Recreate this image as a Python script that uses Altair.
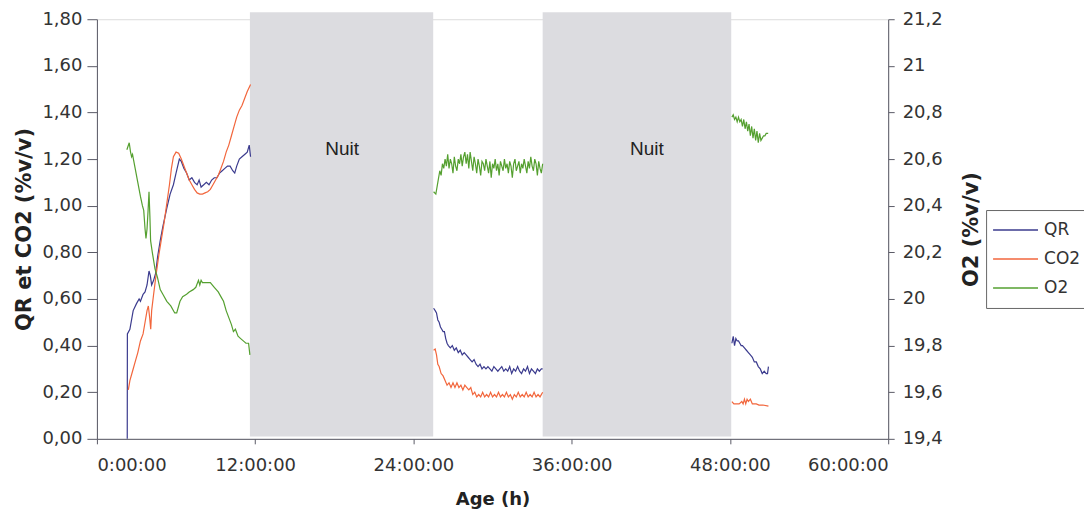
import altair as alt
import pandas as pd

# ---------------- data ----------------
series_names = ["QR", "CO2", "O2"]
series_colors = ["#3b3b8e", "#f2663c", "#55a030"]

night_start = [11.6, 33.8]
night_end = [25.5, 48.1]
night_bottom = [0.01, 0.01]
night_top = [1.83, 1.83]
night_label_x = [18.6, 41.7]
night_label_y = [1.245, 1.245]
night_label = ["Nuit", "Nuit"]

# segment 1 (day 1)
qr1_h = [2.30, 2.31, 2.5, 2.75, 3.0, 3.2, 3.3, 3.5, 3.65, 3.8, 3.95, 4.05, 4.15, 4.3, 4.45, 4.6, 4.8, 5.0,
         5.3, 5.55, 5.8, 6.0, 6.25, 6.4, 6.6, 6.8, 7.0, 7.2, 7.4, 7.6, 7.75, 7.9, 8.1, 8.3, 8.5, 8.7, 8.9,
         9.1, 9.3, 9.5, 9.7, 9.9, 10.1, 10.3, 10.45, 10.6, 10.8, 11.0, 11.2, 11.4, 11.55, 11.65]
qr1_v = [0.00, 0.45, 0.47, 0.55, 0.58, 0.60, 0.59, 0.62, 0.63, 0.66, 0.72, 0.70, 0.66, 0.68, 0.71, 0.78, 0.85, 0.91,
         0.99, 1.05, 1.09, 1.14, 1.20, 1.19, 1.16, 1.14, 1.11, 1.12, 1.10, 1.09, 1.11, 1.08, 1.09, 1.10, 1.09, 1.11, 1.12,
         1.12, 1.14, 1.15, 1.16, 1.17, 1.17, 1.15, 1.14, 1.17, 1.20, 1.21, 1.22, 1.23, 1.26, 1.21]

co21_h = [2.38, 2.5, 2.7, 2.9, 3.1, 3.3, 3.5, 3.65, 3.8, 3.9, 4.0, 4.08, 4.15, 4.3, 4.5, 4.7, 4.9, 5.1, 5.3,
          5.5, 5.65, 5.8, 6.0, 6.2, 6.4, 6.6, 6.8, 7.0, 7.2, 7.4, 7.6, 7.8, 8.0, 8.2, 8.4, 8.6, 8.8, 9.0, 9.2,
          9.4, 9.6, 9.8, 10.0, 10.2, 10.4, 10.6, 10.8, 11.0, 11.2, 11.4, 11.65]
co21_v = [0.21, 0.25, 0.29, 0.33, 0.37, 0.42, 0.45, 0.50, 0.55, 0.57, 0.52, 0.47, 0.55, 0.62, 0.71, 0.79, 0.86, 0.93, 1.01,
          1.09, 1.16, 1.21, 1.23, 1.225, 1.20, 1.17, 1.14, 1.11, 1.09, 1.07, 1.055, 1.05, 1.05, 1.055, 1.06, 1.07, 1.09, 1.11, 1.13,
          1.16, 1.19, 1.23, 1.26, 1.30, 1.34, 1.38, 1.41, 1.43, 1.46, 1.49, 1.52]

o21_h = [2.27, 2.45, 2.55, 2.63, 2.7, 2.9, 3.1, 3.3, 3.45, 3.55, 3.65, 3.72, 3.8, 3.88, 3.95, 4.02, 4.07, 4.2,
         4.4, 4.6, 4.8, 5.0, 5.3, 5.6, 5.9, 6.05, 6.3, 6.5, 6.8, 7.0, 7.3, 7.5, 7.7, 7.8, 7.9, 8.0, 8.3, 8.6,
         8.9, 9.2, 9.4, 9.6, 9.8, 10.0, 10.2, 10.35, 10.5, 10.7, 10.9, 11.1, 11.3, 11.5, 11.6]
o21_v = [20.64, 20.67, 20.63, 20.61, 20.62, 20.56, 20.50, 20.44, 20.40, 20.38, 20.30, 20.26, 20.30, 20.38, 20.46, 20.35,
         20.25, 20.20, 20.13, 20.09, 20.04, 20.02, 19.99, 19.97, 19.94, 19.94, 19.99, 20.01, 20.02, 20.03, 20.04, 20.05,
         20.08, 20.06, 20.08, 20.07, 20.07, 20.07, 20.05, 20.03, 20.01, 19.99, 19.95, 19.92, 19.89, 19.86, 19.87, 19.84,
         19.83, 19.82, 19.81, 19.81, 19.76]

# segment 2 (day 2)
qr2_h = [25.53, 25.65, 25.75, 25.85, 25.95, 26.05, 26.15, 26.25, 26.35, 26.45, 26.55, 26.65, 26.8, 26.95, 27.1,
         27.25, 27.4, 27.55, 27.7, 27.85, 28.0, 28.15, 28.3, 28.45, 28.6, 28.75, 28.9, 29.05, 29.2, 29.35, 29.5,
         29.65, 29.8, 29.95, 30.1, 30.25, 30.4, 30.55, 30.7, 30.85, 31.0, 31.15, 31.3, 31.45, 31.6, 31.75, 31.9,
         32.05, 32.2, 32.35, 32.5, 32.65, 32.8, 32.95, 33.1, 33.25, 33.4, 33.55, 33.7, 33.8]
qr2_v = [0.56, 0.55, 0.54, 0.51, 0.50, 0.48, 0.47, 0.46, 0.46, 0.43, 0.41, 0.40, 0.39, 0.40, 0.38,
         0.39, 0.37, 0.38, 0.36, 0.37, 0.36, 0.35, 0.34, 0.33, 0.34, 0.32, 0.31, 0.32, 0.30, 0.31, 0.30,
         0.31, 0.30, 0.29, 0.31, 0.30, 0.29, 0.30, 0.31, 0.29, 0.30, 0.29, 0.31, 0.28, 0.30, 0.29, 0.31,
         0.29, 0.28, 0.30, 0.29, 0.31, 0.28, 0.30, 0.29, 0.28, 0.30, 0.29, 0.30, 0.30]

co22_h = [25.53, 25.65, 25.75, 25.85, 25.95, 26.1, 26.25, 26.4, 26.55, 26.7, 26.85, 27.0, 27.15, 27.3, 27.45,
          27.6, 27.75, 27.9, 28.05, 28.2, 28.35, 28.5, 28.65, 28.8, 28.95, 29.1, 29.25, 29.4, 29.55, 29.7, 29.85,
          30.0, 30.15, 30.3, 30.45, 30.6, 30.75, 30.9, 31.05, 31.2, 31.35, 31.5, 31.65, 31.8, 31.95, 32.1, 32.25,
          32.4, 32.55, 32.7, 32.85, 33.0, 33.15, 33.3, 33.45, 33.6, 33.8]
co22_v = [0.38, 0.385, 0.36, 0.32, 0.31, 0.28, 0.27, 0.25, 0.23, 0.24, 0.22, 0.24, 0.22, 0.24, 0.22,
          0.23, 0.21, 0.23, 0.22, 0.21, 0.22, 0.19, 0.20, 0.18, 0.19, 0.18, 0.20, 0.18, 0.19, 0.18, 0.20,
          0.18, 0.19, 0.18, 0.20, 0.18, 0.19, 0.18, 0.20, 0.18, 0.19, 0.17, 0.19, 0.18, 0.20, 0.18, 0.19,
          0.18, 0.20, 0.18, 0.19, 0.18, 0.20, 0.18, 0.19, 0.18, 0.20]

o22_h = [25.53, 25.7, 25.85, 26.0, 26.1, 26.2, 26.3, 26.4, 26.5, 26.6, 26.7, 26.8, 26.9, 27.0, 27.1, 27.2, 27.3,
         27.4, 27.5, 27.6, 27.7, 27.8, 27.9, 28.0, 28.1, 28.2, 28.3, 28.4, 28.5, 28.6, 28.7, 28.8, 28.9, 29.0,
         29.1, 29.2, 29.3, 29.4, 29.5, 29.6, 29.7, 29.8, 29.9, 30.0, 30.1, 30.2, 30.3, 30.4, 30.5, 30.6, 30.7,
         30.8, 30.9, 31.0, 31.1, 31.2, 31.3, 31.4, 31.5, 31.6, 31.7, 31.8, 31.9, 32.0, 32.1, 32.2, 32.3, 32.4,
         32.5, 32.6, 32.7, 32.8, 32.9, 33.0, 33.1, 33.2, 33.3, 33.4, 33.5, 33.6, 33.7, 33.8]
o22_v = [20.46, 20.45, 20.50, 20.55, 20.53, 20.58, 20.56, 20.60, 20.57, 20.62, 20.56, 20.60, 20.58, 20.54, 20.61,
         20.57, 20.55, 20.60, 20.58, 20.62, 20.57, 20.61, 20.63, 20.58, 20.62, 20.56, 20.63, 20.59, 20.55, 20.61,
         20.58, 20.54, 20.60, 20.57, 20.53, 20.59, 20.58, 20.55, 20.60, 20.57, 20.54, 20.59, 20.52, 20.58, 20.56,
         20.60, 20.55, 20.58, 20.53, 20.59, 20.57, 20.55, 20.60, 20.56, 20.58, 20.54, 20.59, 20.57, 20.52, 20.58,
         20.60, 20.55, 20.57, 20.59, 20.54, 20.58, 20.56, 20.60, 20.57, 20.54, 20.59, 20.56, 20.61, 20.57, 20.55,
         20.60, 20.58, 20.53, 20.59, 20.56, 20.54, 20.58]

# segment 3 (day 3)
qr3_h = [48.15, 48.25, 48.35, 48.45, 48.55, 48.65, 48.75, 48.85, 48.95, 49.1, 49.25, 49.4, 49.55, 49.7, 49.85,
         50.0, 50.15, 50.3, 50.45, 50.6, 50.75, 50.85, 50.92]
qr3_v = [0.41, 0.44, 0.40, 0.43, 0.42, 0.42, 0.41, 0.40, 0.40, 0.39, 0.38, 0.37, 0.36, 0.35, 0.33,
         0.33, 0.31, 0.30, 0.28, 0.29, 0.28, 0.28, 0.31]

co23_h = [48.15, 48.3, 48.5, 48.7, 48.9, 49.0, 49.1, 49.2, 49.3, 49.4, 49.55, 49.7, 49.85, 50.0, 50.2, 50.5, 50.92]
co23_v = [0.16, 0.15, 0.15, 0.15, 0.16, 0.15, 0.17, 0.15, 0.17, 0.16, 0.17, 0.15, 0.15, 0.15, 0.145, 0.145, 0.14]

o23_h = [48.15, 48.25, 48.35, 48.45, 48.55, 48.65, 48.75, 48.85, 48.95, 49.05, 49.15, 49.25, 49.35, 49.45,
         49.55, 49.65, 49.75, 49.85, 49.95, 50.05, 50.15, 50.25, 50.35, 50.45, 50.55, 50.65, 50.75, 50.9]
o23_v = [20.78, 20.79, 20.77, 20.78, 20.76, 20.78, 20.76, 20.77, 20.74, 20.77, 20.73, 20.76, 20.72, 20.75,
         20.70, 20.74, 20.69, 20.73, 20.68, 20.72, 20.67, 20.71, 20.68, 20.69, 20.70, 20.70, 20.71, 20.71]

x_ticks = [0, 12, 24, 36, 48, 60]
left_ticks = [0, 0.2, 0.4, 0.6, 0.8, 1.0, 1.2, 1.4, 1.6, 1.8]
right_ticks = [19.4, 19.6, 19.8, 20.0, 20.2, 20.4, 20.6, 20.8, 21.0, 21.2]

# ---------------- tables ----------------
def frame(series, seg, hs, vs):
    return pd.DataFrame({"h": hs, "v": vs, "series": series, "seg": f"{series}-{seg}"})

df_left = pd.concat([
    frame("QR", 1, qr1_h, qr1_v), frame("QR", 2, qr2_h, qr2_v), frame("QR", 3, qr3_h, qr3_v),
    frame("CO2", 1, co21_h, co21_v), frame("CO2", 2, co22_h, co22_v), frame("CO2", 3, co23_h, co23_v),
], ignore_index=True)
df_right = pd.concat([
    frame("O2", 1, o21_h, o21_v), frame("O2", 2, o22_h, o22_v), frame("O2", 3, o23_h, o23_v),
], ignore_index=True)
df_night = pd.DataFrame({"s": night_start, "e": night_end, "b": night_bottom, "t": night_top})
df_lab = pd.DataFrame({"x": night_label_x, "y": night_label_y, "txt": night_label})

FONT = "DejaVu Sans"
AXIS_COLOR = "#5a5a66"

xscale = alt.Scale(domain=[0, 60], nice=False, zero=False)
x_axis = alt.Axis(values=x_ticks, labelExpr="datum.value + ':00:00'", grid=False,
                  title="Age (h)", titleFont=FONT, titleFontSize=18, titleFontWeight="bold",
                  titleColor="#222", titlePadding=16,
                  labelFont=FONT, labelFontSize=18, labelColor="#333", labelPadding=13,
                  tickSize=5, domainColor=AXIS_COLOR, tickColor=AXIS_COLOR)
left_scale = alt.Scale(domain=[0, 1.8], nice=False, zero=False)
right_scale = alt.Scale(domain=[19.4, 21.2], nice=False, zero=False)

color = alt.Color("series:N", scale=alt.Scale(domain=series_names, range=series_colors),
                  legend=alt.Legend(title=None, orient="none", legendX=890, legendY=191,
                                    symbolType="stroke", symbolSize=2025, symbolStrokeWidth=1.5,
                                    labelFont=FONT, labelFontSize=17, labelColor="#333",
                                    strokeColor="#666", padding=6, rowPadding=1, clipHeight=28,
                                    labelOffset=5))

night = alt.Chart(df_night).mark_rect(color="#dcdce0", clip=False).encode(
    x=alt.X("s:Q", scale=xscale, axis=x_axis),
    x2="e:Q",
    y=alt.Y("b:Q", scale=left_scale, axis=None),
    y2="t:Q",
)

labels = alt.Chart(df_lab).mark_text(font="Liberation Sans", fontSize=19, color="#222").encode(
    x=alt.X("x:Q", scale=xscale, axis=x_axis),
    y=alt.Y("y:Q", scale=left_scale, axis=None),
    text="txt:N",
)

left = alt.Chart(df_left).mark_line(strokeWidth=1.2).encode(
    x=alt.X("h:Q", scale=xscale, axis=x_axis),
    y=alt.Y("v:Q", scale=left_scale,
            axis=alt.Axis(orient="left", values=left_ticks, grid=False,
                          labelExpr="replace(format(datum.value, '.2f'), '.', ',')",
                          title="QR  et CO2 (%v/v)", titleFont=FONT, titleFontSize=21,
                          titleFontWeight="bold", titleColor="#222", titlePadding=7,
                          labelFont=FONT, labelFontSize=18, labelColor="#333", labelPadding=5,
                          tickSize=10, domainColor=AXIS_COLOR, tickColor=AXIS_COLOR)),
    color=color,
    detail="seg:N",
)

right = alt.Chart(df_right).mark_line(strokeWidth=1.2).encode(
    x=alt.X("h:Q", scale=xscale, axis=x_axis),
    y=alt.Y("v:Q", scale=right_scale,
            axis=alt.Axis(orient="right", values=right_ticks, grid=False,
                          labelExpr="replace(format(datum.value, '.1~f'), '.', ',')",
                          title="O2 (%v/v)", titleFont=FONT, titleFontSize=21, titleAngle=270,
                          titleFontWeight="bold", titleColor="#222", titlePadding=39,
                          labelFont=FONT, labelFontSize=18, labelColor="#333", labelPadding=8,
                          tickSize=6, domainColor=AXIS_COLOR, tickColor=AXIS_COLOR)),
    color=color,
    detail="seg:N",
)

chart = alt.layer(night, labels, left, right).resolve_scale(y="independent").properties(
    width=792, height=420,
    autosize=alt.AutoSizeParams(type="none"),
    padding={"left": 89, "top": 11, "right": 196, "bottom": 71},
).configure_view(stroke=None).configure(background="white")

chart.save("out.html", embed_options={"renderer": "svg", "actions": False})
